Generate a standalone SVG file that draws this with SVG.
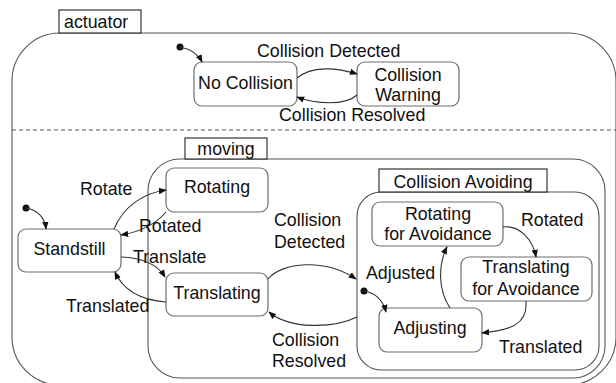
<svg xmlns="http://www.w3.org/2000/svg" width="616" height="383" viewBox="0 0 616 383">
<style>
text{font-family:"Liberation Sans",Arial,sans-serif;font-size:17.8px;fill:#111}
.c{text-anchor:middle}
.node{fill:#fff;stroke:#6e6e6e;stroke-width:1.2}
.cont{fill:none;stroke:#555;stroke-width:1.1}
.lbl{fill:#fff;stroke:#222;stroke-width:1.1}
.edge{fill:none;stroke:#333;stroke-width:1.1;marker-end:url(#ah)}
.dot{fill:#111}
</style>
<defs>
<marker id="ah" viewBox="0 0 10 10" refX="9" refY="5" markerWidth="8" markerHeight="8" markerUnits="userSpaceOnUse" orient="auto">
<path d="M0,1 L10,5 L0,9 Z" fill="#111"/>
</marker>
</defs>
<g id="actuator">
<path class="cont" d="M60,33 H568 A48,48 0 0 1 616,81 V337 A48,48 0 0 1 568,385 H60 A48,48 0 0 1 12,337 V81 A48,48 0 0 1 60,33 Z"/>
<line x1="12" y1="130" x2="616" y2="130" stroke="#555" stroke-width="1" stroke-dasharray="4,3"/>
<rect class="lbl" x="59" y="10" width="82" height="23"/>
<text x="64" y="28">actuator</text>
</g>
<g id="moving">
<rect class="cont" x="148" y="159" width="457" height="219" rx="32"/>
<rect class="lbl" x="185" y="138" width="82" height="21"/>
<text class="c" x="226" y="155">moving</text>
</g>
<g id="collision-avoiding">
<rect class="cont" x="357" y="192" width="242" height="178" rx="24"/>
<rect class="lbl" x="379" y="169" width="168" height="23"/>
<text class="c" x="463" y="188">Collision Avoiding</text>
</g>
<g id="no-collision">
<rect class="node" x="194" y="62" width="103" height="44" rx="8"/>
<text class="c" x="245.5" y="89">No Collision</text>
</g>
<g id="collision-warning">
<rect class="node" x="357" y="62" width="102" height="44" rx="8"/>
<text class="c" x="408" y="81">Collision</text>
<text class="c" x="408" y="101">Warning</text>
</g>
<g id="standstill">
<rect class="node" x="18" y="229" width="103" height="43" rx="8"/>
<text class="c" x="69.5" y="255">Standstill</text>
</g>
<g id="rotating">
<rect class="node" x="166" y="168" width="102" height="44" rx="8"/>
<text class="c" x="217" y="193">Rotating</text>
</g>
<g id="translating">
<rect class="node" x="166" y="273" width="102" height="43" rx="8"/>
<text class="c" x="217" y="299">Translating</text>
</g>
<g id="rotating-for-avoidance">
<rect class="node" x="372" y="202" width="131" height="44" rx="8"/>
<text class="c" x="438" y="220">Rotating</text>
<text class="c" x="438" y="240">for Avoidance</text>
</g>
<g id="translating-for-avoidance">
<rect class="node" x="461" y="257" width="131" height="44" rx="8"/>
<text class="c" x="526" y="273">Translating</text>
<text class="c" x="526" y="295">for Avoidance</text>
</g>
<g id="adjusting">
<rect class="node" x="379" y="308" width="103" height="44" rx="8"/>
<text class="c" x="430" y="334">Adjusting</text>
</g>
<g id="initial-states">
<circle class="dot" cx="180" cy="47" r="3.5"/>
<circle class="dot" cx="26" cy="208" r="3.5"/>
<circle class="dot" cx="364" cy="291" r="3.5"/>
</g>
<g id="connectors">
<path class="edge" d="M180,47 C190,49 198,54 202,62"/>
<path class="edge" d="M297,78 C312,66 335,67 357,74"/>
<path class="edge" d="M357,95 C345,106 315,104 297,97"/>
<path class="edge" d="M26,208 C38,210 45,218 46,229"/>
<path class="edge" d="M114,229 C124,205 145,193 166,190"/>
<path class="edge" d="M166,212 C155,225 140,232 121,235"/>
<path class="edge" d="M121,257 C145,258 158,265 165,277"/>
<path class="edge" d="M166,302 C140,300 123,290 115,272"/>
<path class="edge" d="M268,279 C282,262 325,258 356,279"/>
<path class="edge" d="M357,317 C335,328 290,330 269,312"/>
<path class="edge" d="M364,291 C375,293 383,300 386,312"/>
<path class="edge" d="M450,308 C438,290 438,265 447,247"/>
<path class="edge" d="M503,227 C520,225 533,240 536,257"/>
<path class="edge" d="M526,301 C528,325 510,330 482,333"/>
</g>
<g id="labels">
<text x="257" y="57">Collision Detected</text>
<text x="279" y="121">Collision Resolved</text>
<text x="80" y="195">Rotate</text>
<text x="139" y="232">Rotated</text>
<text x="133" y="263">Translate</text>
<text x="66" y="312">Translated</text>
<text x="274" y="226">Collision</text>
<text x="274" y="248">Detected</text>
<text x="272" y="346">Collision</text>
<text x="272" y="367">Resolved</text>
<text x="366" y="279">Adjusted</text>
<text x="521" y="226">Rotated</text>
<text x="499" y="353">Translated</text>
</g>
</svg>
